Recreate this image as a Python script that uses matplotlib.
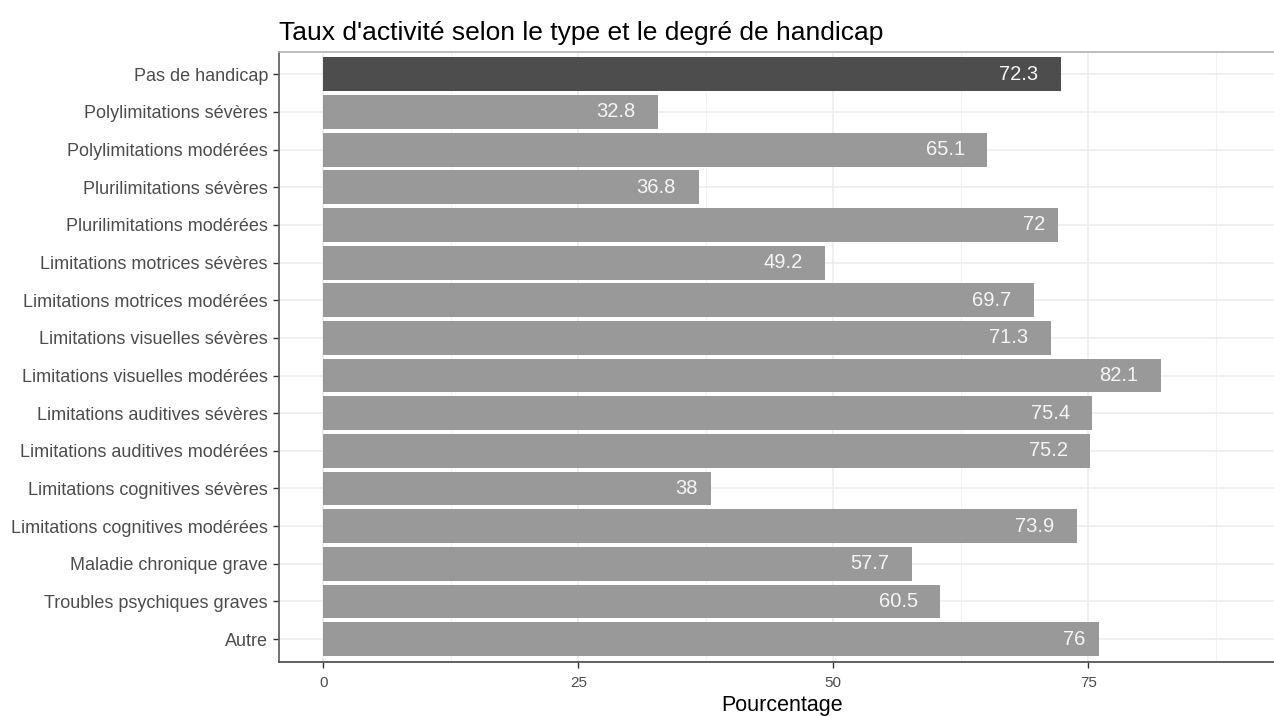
import matplotlib
matplotlib.use("Agg")
import matplotlib.pyplot as plt
from matplotlib.transforms import ScaledTranslation

plt.rcParams['font.family'] = ['Liberation Sans', 'DejaVu Sans']

# données
categories = [
    "Pas de handicap",
    "Polylimitations sévères",
    "Polylimitations modérées",
    "Plurilimitations sévères",
    "Plurilimitations modérées",
    "Limitations motrices sévères",
    "Limitations motrices modérées",
    "Limitations visuelles sévères",
    "Limitations visuelles modérées",
    "Limitations auditives sévères",
    "Limitations auditives modérées",
    "Limitations cognitives sévères",
    "Limitations cognitives modérées",
    "Maladie chronique grave",
    "Troubles psychiques graves",
    "Autre",
]
taux = [72.3, 32.8, 65.1, 36.8, 72, 49.2, 69.7, 71.3, 82.1, 75.4, 75.2, 38, 73.9, 57.7, 60.5, 76]
x_ticks = [0, 25, 50, 75]
x_minor = [12.5, 37.5, 62.5, 87.5]

n = len(categories)
ypos = [n - i for i in range(n)]
colors = ['#4D4D4D' if c == "Pas de handicap" else '#999999' for c in categories]

fig = plt.figure(figsize=(12.74, 7.16), dpi=100)
ax = fig.add_axes([279 / 1274, 1 - 661.7 / 716, 1 - 279 / 1274, (661.7 - 51.7) / 716])

ax.barh(ypos, taux, height=0.9, color=colors, zorder=2)

ax.set_xlim(-4.34, 93.2)
ax.set_ylim(0.4, n + 0.6)

# grille
for v in x_ticks:
    ax.axvline(v, color='#EBEBEB', lw=1.1, zorder=0)
for v in x_minor:
    ax.axvline(v, color='#F2F2F2', lw=0.8, zorder=0)
for y in ypos:
    ax.axhline(y, color='#EBEBEB', lw=1.1, zorder=0)

ax.set_yticks(ypos)
ax.set_yticklabels(categories, fontsize=13, color='#4D4D4D')
ax.set_xticks(x_ticks)
ax.set_xticklabels([str(v) for v in x_ticks], fontsize=11, color='#4D4D4D')
ax.tick_params(axis='both', length=4, width=1, color='#333333')
ax.tick_params(axis='y', pad=4)
ax.tick_params(axis='x', pad=6)

ax.spines['right'].set_visible(False)
ax.spines['top'].set_color('#B3B3B3')
ax.spines['top'].set_linewidth(1.2)
ax.spines['left'].set_color('#666666')
ax.spines['left'].set_linewidth(1.3)
ax.spines['bottom'].set_color('#555555')
ax.spines['bottom'].set_linewidth(1.3)

# étiquettes des barres (hjust ~1.5)
texts = []
for y, v in zip(ypos, taux):
    t = ax.text(v, y, f"{v:g}", ha='right', va='center', color='#F5F5F5', fontsize=14.5, zorder=3)
    texts.append(t)
fig.canvas.draw()
r = fig.canvas.get_renderer()
for t in texts:
    w = t.get_window_extent(r).width
    t.set_transform(ax.transData + ScaledTranslation(-0.58 * w / fig.dpi, 0, fig.dpi_scale_trans))

fig.text(279 / 1274, 1 - 40 / 716, "Taux d'activité selon le type et le degré de handicap",
         fontsize=19, ha='left', va='baseline', color='black')
fig.text(782 / 1274, 1 - 706 / 716, "Pourcentage", fontsize=15.5,
         ha='center', va='center', color='black')

fig.savefig("out.png", dpi=100)
